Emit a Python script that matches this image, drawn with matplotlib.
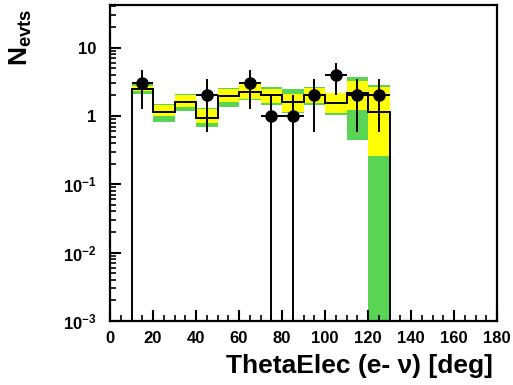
import numpy as np
import matplotlib
matplotlib.use("Agg")
import matplotlib.pyplot as plt
from matplotlib.ticker import FixedLocator, MultipleLocator, LogLocator, NullFormatter

plt.rcParams["font.family"] = ["Liberation Sans", "DejaVu Sans"]
plt.rcParams["font.weight"] = "bold"
plt.rcParams["mathtext.fontset"] = "custom"
plt.rcParams["mathtext.rm"] = "Liberation Sans:bold"
plt.rcParams["mathtext.it"] = "Liberation Sans:bold"
plt.rcParams["mathtext.bf"] = "Liberation Sans:bold"

# MC expectation per 10 deg bin (10..130) and its uncertainty bands
bin_edges = [10, 20, 30, 40, 50, 60, 70, 80, 90, 100, 110, 120, 130]
mc = [2.45, 1.16, 1.60, 0.94, 1.95, 2.25, 2.03, 1.58, 2.00, 1.53, 2.15, 1.13]
yel_lo = [2.30, 1.00, 1.33, 0.78, 1.58, 1.80, 1.53, 1.16, 1.53, 1.10, 1.22, 0.263]
yel_hi = [2.75, 1.44, 2.00, 1.26, 2.48, 2.95, 2.48, 2.10, 2.54, 2.14, 3.28, 2.68]
grn_lo = [2.10, 0.81, 1.17, 0.70, 1.35, 1.70, 1.43, 1.10, 1.45, 1.05, 0.446, 1e-6]
grn_hi = [3.00, 1.51, 2.12, 1.31, 2.54, 3.10, 2.62, 2.45, 2.68, 2.20, 3.67, 2.84]

# observed events
data_x = [15, 45, 65, 75, 85, 95, 105, 115, 125]
data_n = [3, 2, 3, 1, 1, 2, 4, 2, 2]

ytick_vals = [1e-3, 1e-2, 1e-1, 1, 10]
ytick_labels = [r"$10^{-3}$", r"$10^{-2}$", r"$10^{-1}$", "1", "10"]
xtick_vals = [0, 20, 40, 60, 80, 100, 120, 140, 160, 180]

W, H = 513, 385
fig = plt.figure(figsize=(W / 100, H / 100), dpi=100, facecolor="white")
ax = fig.add_axes([110 / W, 1 - 321 / H, (497 - 110) / W, (321 - 5) / H])

edges = np.array(bin_edges, dtype=float)
lefts = edges[:-1]
widths = np.diff(edges)
grn_lo_a, grn_hi_a = np.array(grn_lo), np.array(grn_hi)
yel_lo_a, yel_hi_a = np.array(yel_lo), np.array(yel_hi)

ax.bar(lefts, grn_hi_a - grn_lo_a, bottom=grn_lo_a, width=widths, align="edge",
       color="#59d454", linewidth=0, zorder=1)
ax.bar(lefts, yel_hi_a - yel_lo_a, bottom=yel_lo_a, width=widths, align="edge",
       color="#ffff00", linewidth=0, zorder=2)
ax.stairs(mc, edges, baseline=1e-6, color="black", linewidth=1.4, zorder=3)

dn = np.array(data_n, dtype=float)
err = np.sqrt(dn)
lower = dn - np.maximum(dn - err, 1e-6)
ax.errorbar(data_x, dn, yerr=[lower, err], xerr=5, fmt="o", color="black",
            markersize=8, elinewidth=1.4, capsize=0, zorder=4)

ax.set_yscale("log")
ax.set_xlim(0, 180)
ax.set_ylim(1e-3, 42)

ax.xaxis.set_major_locator(FixedLocator(xtick_vals))
ax.xaxis.set_minor_locator(MultipleLocator(5))
ax.yaxis.set_major_locator(FixedLocator(ytick_vals))
ax.set_yticklabels(ytick_labels)
ax.yaxis.set_minor_locator(LogLocator(base=10, subs=np.arange(2, 10)))
ax.yaxis.set_minor_formatter(NullFormatter())

ax.tick_params(axis="both", which="major", direction="in", length=8, width=1.5,
               labelsize=12, top=False, right=False)
ax.tick_params(axis="both", which="minor", direction="in", length=4, width=1.2,
               top=False, right=False)
ax.tick_params(axis="x", pad=7)
ax.tick_params(axis="y", pad=10)
for lab in ax.get_xticklabels() + ax.get_yticklabels():
    lab.set_fontweight("bold")

for spine in ax.spines.values():
    spine.set_linewidth(1.6)
    spine.set_color("black")

fig.text(493 / W, 1 - 366 / H, "ThetaElec (e- \u03bd) [deg]", ha="right", va="center",
         fontsize=19, fontweight="bold")
fig.text(21 / W, 1 - 9 / H, r"$N_{evts}$", rotation=90, ha="center", va="top",
         fontsize=19)

fig.savefig("out.png", dpi=100)
